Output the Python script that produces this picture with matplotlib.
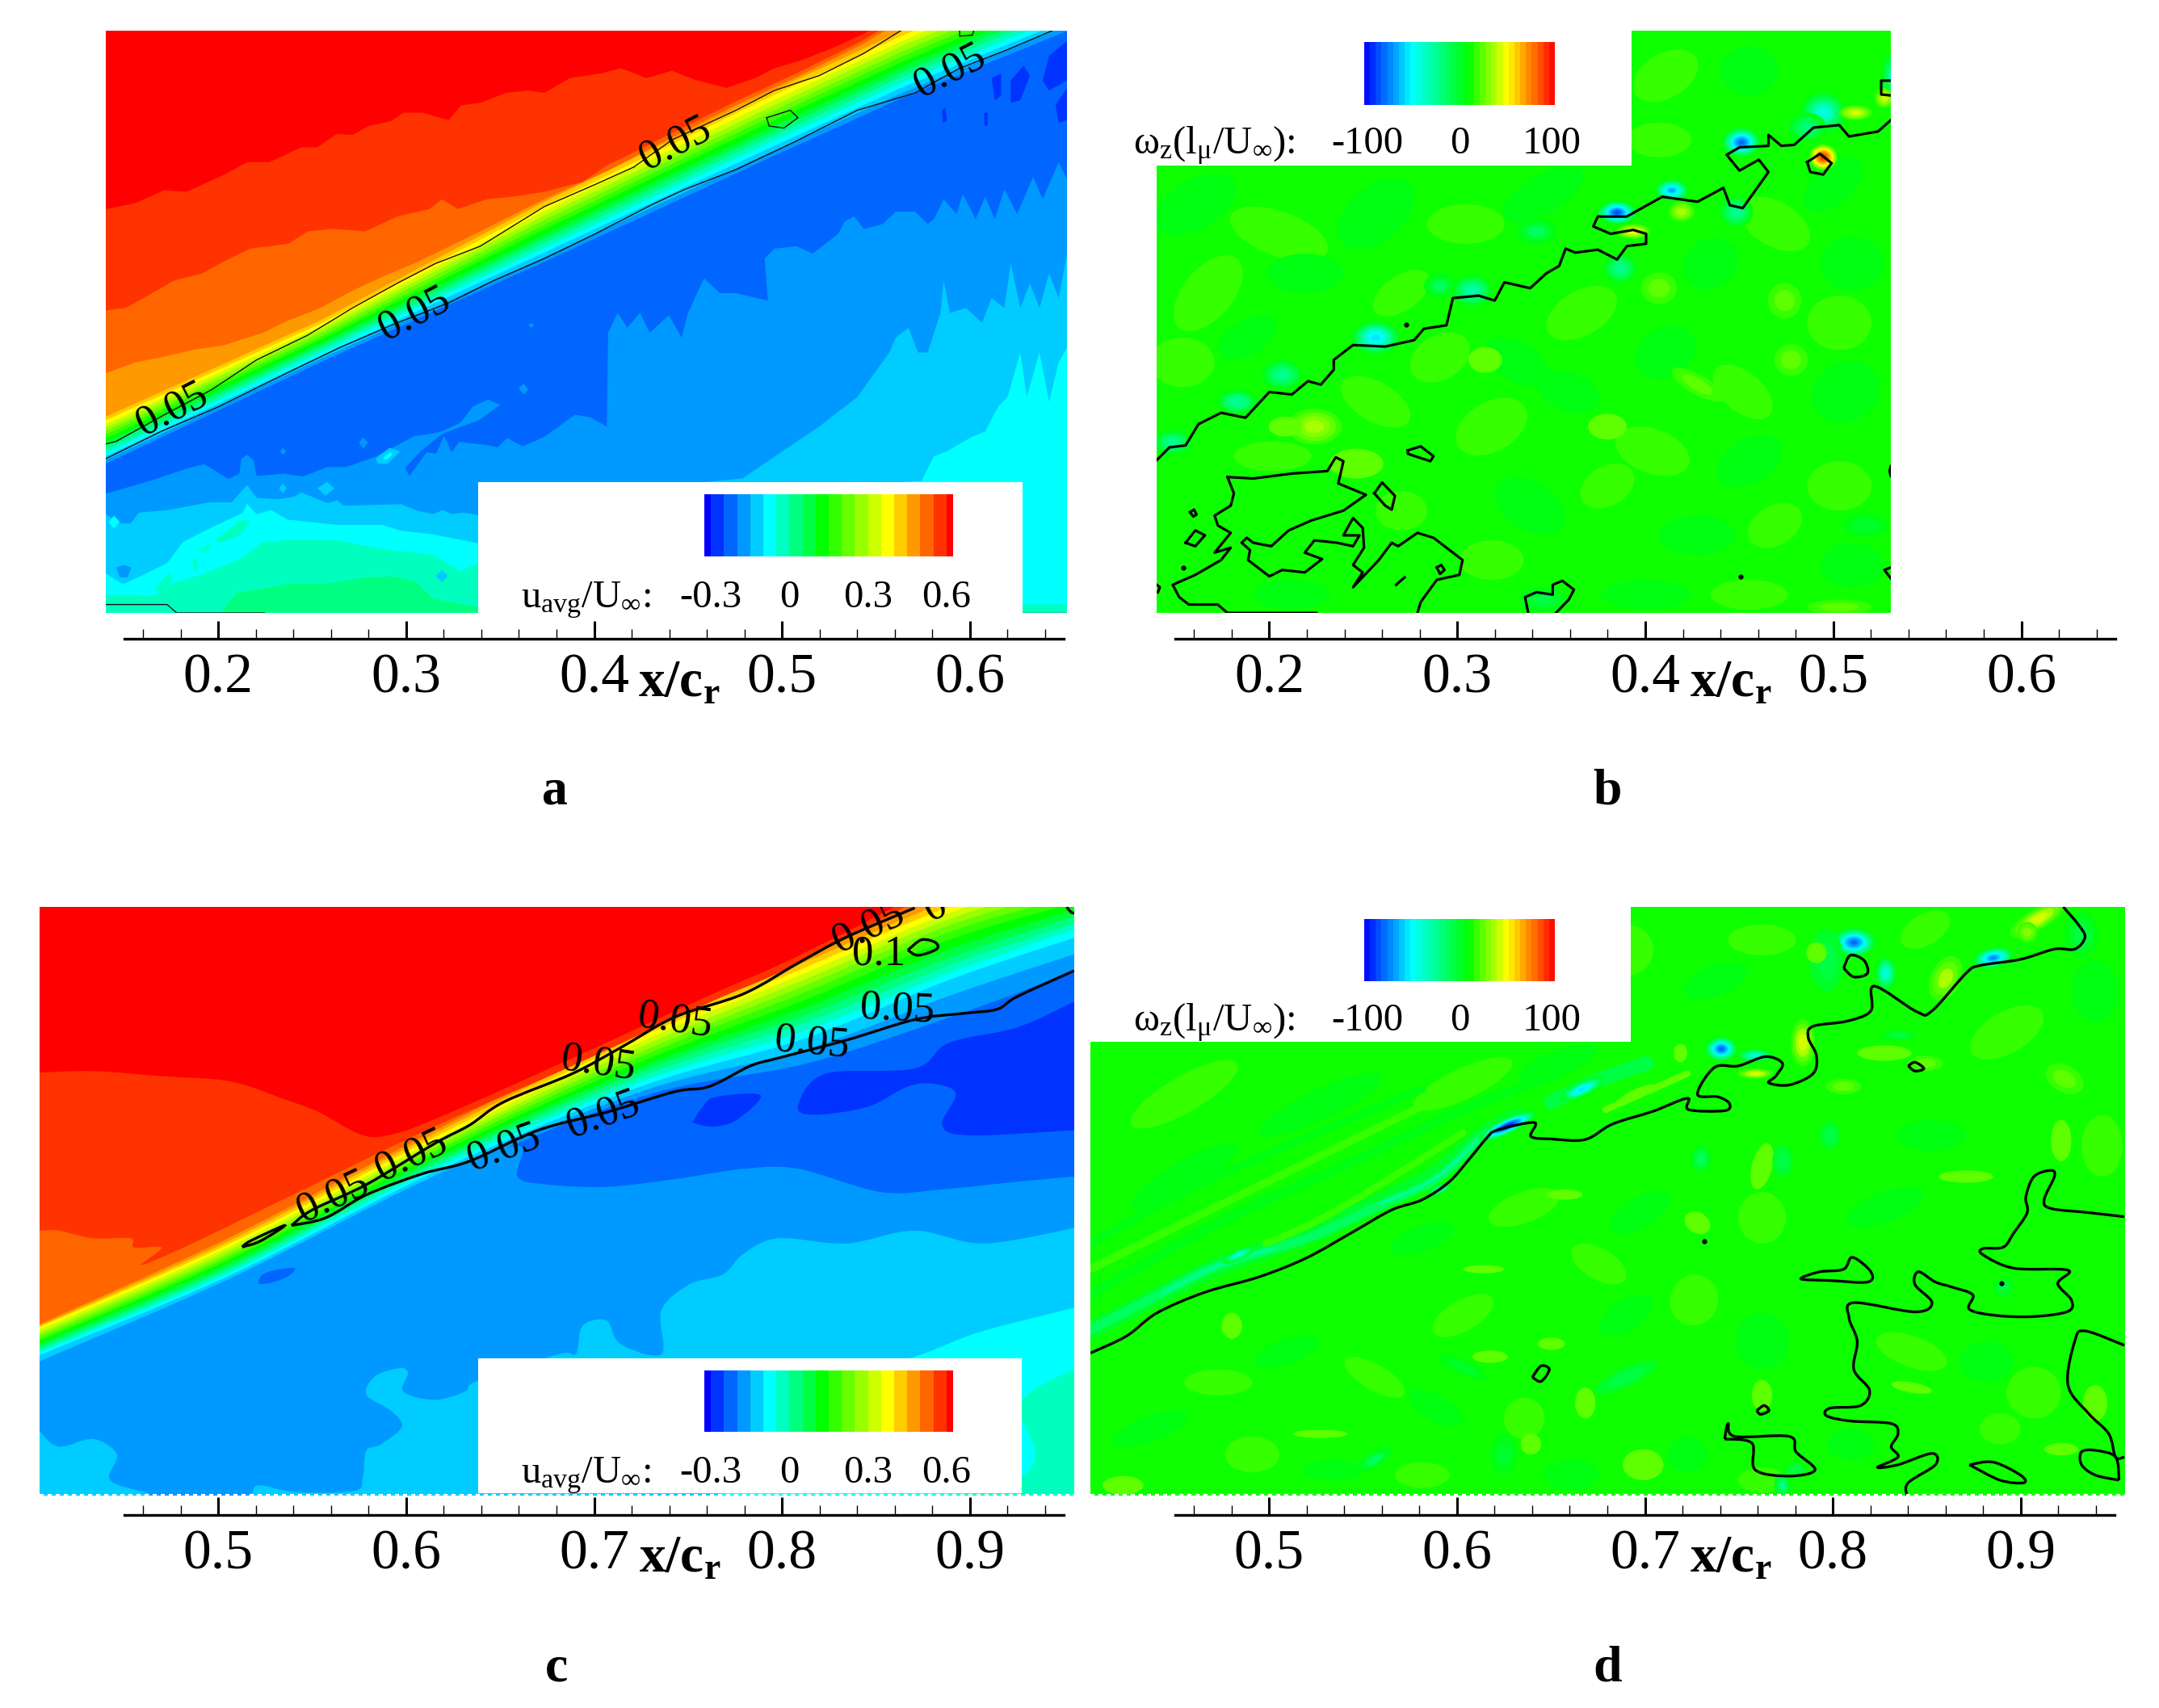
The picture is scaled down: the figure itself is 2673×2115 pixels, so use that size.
import numpy as np
import matplotlib
matplotlib.use('Agg')
import matplotlib.pyplot as plt
from matplotlib.colors import LinearSegmentedColormap, ListedColormap
from matplotlib.patches import Ellipse, PathPatch, Rectangle
from matplotlib.path import Path
from matplotlib.transforms import blended_transform_factory

plt.rcParams['font.family'] = ['Liberation Serif', 'DejaVu Sans']
plt.rcParams['mathtext.fontset'] = 'custom'
plt.rcParams['mathtext.rm'] = 'Liberation Serif'
plt.rcParams['mathtext.it'] = 'Liberation Serif:italic'
plt.rcParams['mathtext.bf'] = 'Liberation Serif:bold'

W, H = 2673, 2115

# band colours of the u_avg legend, low to high
U_BANDS = ['#0000ff', '#0033ff', '#0066ff', '#0099ff', '#00ccff', '#00ffff', '#00ffbf', '#00ff80', '#00ff40', '#00ff00',
           '#33ff00', '#66ff00', '#99ff00', '#ccff00', '#ffff00', '#ffcc00', '#ff9900', '#ff6600', '#ff3300', '#ff0000']
U_TICKS = [-0.3, 0, 0.3, 0.6]
W_TICKS = [-100, 0, 100]
XTICKS_TOP = [0.2, 0.3, 0.4, 0.5, 0.6]
XTICKS_BOTTOM = [0.5, 0.6, 0.7, 0.8, 0.9]

# All curves below are digitised in picture units (x along, y down) and get
# calibrated to x/c_r per panel further down.

# panel a, lower edge of each velocity band
A_BAND6 = [(14, 1207), (194, 1207), (218, 1167), (300, 1148), (358, 1148), (421, 1135), (460, 1133), (498, 1143), (526, 1178), (597, 1195), (700, 1207), (1518, 1207)]
A_BAND5 = [(14, 1170), (90, 1172), (119, 1146), (157, 1132), (221, 1100), (245, 1078), (259, 1063), (323, 1058), (380, 1061), (448, 1078), (526, 1089), (569, 1122), (597, 1107), (800, 1150), (1000, 1190), (1518, 1190)]
A_BAND4 = [(14, 1127), (41, 1149), (68, 1133), (110, 1106), (135, 1063), (184, 1031), (228, 1005), (235, 986), (250, 1007), (273, 999), (298, 1018), (376, 1029), (448, 1029), (474, 1040), (526, 1048), (597, 1066), (800, 1020), (1000, 960), (1290, 940), (1310, 890), (1330, 880), (1370, 850), (1390, 840), (1410, 790), (1425, 770), (1445, 680), (1455, 770), (1475, 680), (1490, 780), (1505, 700), (1518, 670)]
A_BAND3 = [(14, 1007), (34, 1026), (53, 1026), (66, 1004), (110, 999), (177, 983), (211, 983), (235, 948), (250, 974), (283, 977), (308, 972), (320, 963), (361, 985), (376, 979), (386, 990), (476, 987), (501, 1000), (526, 1007), (541, 999), (555, 1007), (574, 1004), (597, 1009),
           (800, 960), (1010, 935), (1050, 900), (1130, 830), (1190, 770), (1240, 680), (1250, 650), (1270, 630), (1285, 680), (1300, 680), (1320, 600), (1325, 535), (1335, 600), (1360, 590), (1385, 620), (1400, 570), (1420, 590), (1430, 500), (1445, 590), (1460, 540), (1475, 590), (1490, 520), (1505, 570), (1518, 480)]
A_BAND2 = [(14, 966), (85, 939), (143, 914), (168, 906), (206, 936), (223, 925), (226, 895), (235, 887), (245, 898), (250, 930), (293, 925), (322, 931), (361, 912), (390, 912), (436, 891), (497, 849), (526, 844), (543, 838), (569, 822), (589, 789), (612, 775), (631, 786), (598, 817), (570, 830), (540, 845),
           (506, 881), (482, 914), (489, 930), (516, 882), (531, 885), (543, 849), (555, 882), (567, 861), (608, 867), (627, 872), (642, 853), (666, 870), (700, 851), (748, 806), (772, 811), (798, 830), (800, 640), (815, 600), (830, 630), (850, 600), (865, 640), (895, 605), (915, 650), (925, 600), (950, 530), (975, 560), (1000, 560), (1050, 575), (1045, 490), (1060, 470), (1095, 465), (1120, 480), (1160, 440), (1170, 415), (1185, 405), (1200, 430), (1230, 420), (1250, 395), (1280, 395), (1300, 420), (1310, 410), (1325, 370), (1345, 400), (1355, 360), (1375, 410), (1390, 365), (1405, 410), (1420, 350), (1440, 400), (1465, 325), (1480, 370), (1505, 295), (1518, 330)]
A_BAND17 = [(14, 722), (60, 700), (100, 690), (150, 675), (200, 665), (260, 640), (300, 615), (350, 590), (400, 555), (450, 525), (500, 498), (600, 435), (700, 370), (800, 312), (900, 245), (1000, 180), (1100, 120), (1200, 55), (1245, 20)]
A_BAND18 = [(14, 595), (45, 590), (80, 565), (120, 535), (165, 520), (200, 495), (240, 470), (300, 460), (330, 435), (370, 430), (420, 435), (470, 405), (520, 390), (540, 370), (565, 390), (610, 370), (650, 365), (700, 355), (760, 335), (800, 300), (830, 282), (900, 236), (1000, 172), (1100, 112), (1200, 48), (1235, 20)]
A_BAND19 = [(14, 390), (60, 378), (105, 352), (140, 355), (200, 320), (235, 295), (270, 295), (320, 265), (345, 265), (375, 238), (400, 240), (425, 222), (460, 212), (480, 195), (510, 195), (550, 210), (570, 180), (600, 175), (640, 155), (675, 150), (700, 155), (740, 125), (790, 115), (820, 105), (860, 125), (900, 110), (935, 128), (985, 145), (1030, 125), (1060, 105), (1100, 90), (1150, 65), (1200, 35), (1222, 20)]

# panel a, shear layer: lower edge of bands 3..16 at a few stations along x
A_SHEAR_X = [14, 350, 700, 1050, 1260, 1518]
A_SHEAR = [[905, 898, 890, 883, 876, 868, 861, 854, 846, 839, 832, 825, 817, 810],
           [700, 693, 687, 680, 674, 667, 661, 654, 648, 641, 635, 628, 622, 615],
           [497, 488, 478, 469, 459, 450, 441, 431, 422, 412, 403, 394, 384, 375],
           [288, 278, 268, 257, 247, 237, 227, 216, 206, 196, 186, 175, 165, 155],
           [165, 155, 144, 134, 123, 113, 102, 92, 81, 71, 60, 50, 39, 29],
           [30, 19, 8, -3, -14, -25, -36, -47, -58, -69, -80, -91, -102, -113]]

# panel a, small closed patches: (band, outline)
A_ISLANDS = [(1, [(1480, 130), (1490, 80), (1518, 50), (1518, 130), (1490, 150)]),
             (1, [(1430, 130), (1450, 100), (1460, 120), (1445, 170), (1430, 175)]),
             (1, [(1400, 125), (1415, 115), (1415, 160), (1405, 170)]),
             (1, [(1500, 180), (1518, 145), (1518, 210), (1505, 215)]),
             (1, [(1322, 190), (1328, 185), (1330, 212), (1324, 215)]),
             (1, [(1388, 195), (1394, 195), (1394, 220), (1389, 222)]),
             (5, [(18, 1023), (27, 1010), (36, 1023), (27, 1036)]),
             (3, [(30, 1115), (42, 1110), (54, 1115), (48, 1135), (36, 1135)]),
             (6, [(90, 1160), (113, 1125), (118, 1140), (100, 1165)]),
             (6, [(150, 1100), (155, 1095), (158, 1115), (153, 1125)]),
             (6, [(185, 1060), (225, 1020), (240, 1020), (225, 1050), (190, 1065)]),
             (6, [(160, 1080), (175, 1068), (180, 1072), (165, 1085)]),
             (4, [(285, 955), (291, 945), (297, 955), (291, 965)]),
             (4, [(345, 955), (360, 942), (372, 955), (358, 970)]),
             (4, [(436, 895), (458, 873), (475, 880), (455, 905), (440, 905)]),
             (5, [(448, 893), (460, 880), (462, 888), (452, 898)]),
             (3, [(410, 862), (417, 852), (424, 862), (417, 875)]),
             (3, [(287, 880), (291, 873), (296, 880), (291, 887)]),
             (4, [(530, 1132), (540, 1120), (550, 1132), (540, 1145)]),
             (3, [(823, 740), (828, 725), (830, 755)]),
             (3, [(660, 752), (668, 743), (675, 755), (668, 765)]),
             (3, [(675, 625), (680, 620), (684, 625), (680, 630)])]

A_LINES = [[(14, 865), (30, 860), (100, 810), (180, 755), (250, 695), (330, 645), (400, 590), (470, 540), (530, 500), (600, 465), (700, 385), (780, 340), (840, 305), (900, 250), (1000, 190), (1060, 150), (1130, 120), (1200, 75), (1258, 29)],
           [(14, 895), (100, 840), (190, 790), (300, 720), (380, 670), (470, 620), (550, 580), (620, 535), (700, 490), (780, 440), (870, 380), (920, 350), (1000, 310), (1090, 255), (1190, 190), (1280, 155), (1350, 105), (1420, 70), (1495, 29)],
           [(1048, 205), (1085, 190), (1097, 205), (1075, 226), (1052, 222), (1048, 205)],
           [(1350, 29), (1350, 40), (1370, 38), (1372, 29)],
           [(14, 1190), (110, 1190), (125, 1207), (262, 1207)],
           [(1448, 1207), (1518, 1207)]]
A_LABELS = [(118, 795, 27, '0.05'), (497, 603, 27, '0.05'), (905, 258, 27, '0.05'), (1335, 110, 27, '0.05')]

# panel c
C_BAND5 = [(22, 1180), (1340, 1180), (1456, 995), (1533, 935)]
C_BAND4 = [(22, 1180), (1000, 1180), (1100, 1000), (1300, 910), (1340, 890), (1400, 860), (1533, 815)]
C_BAND3 = [(22, 1055), (50, 1085), (100, 1070), (135, 1100), (125, 1150), (180, 1175), (190, 1182), (318, 1182), (341, 1160), (395, 1173), (481, 1171), (494, 1145), (499, 1093), (521, 1080), (551, 1046), (535, 1015), (499, 984), (512, 948), (548, 932), (560, 942), (553, 978), (598, 994), (643, 978), (661, 957),
           (780, 905), (805, 905), (815, 850), (850, 840), (870, 885), (930, 905), (930, 820), (970, 770), (1020, 750), (1050, 710), (1100, 680), (1200, 690), (1300, 665), (1400, 690), (1533, 660)]
C_BAND2 = [(22, 905), (200, 800), (400, 675), (600, 560), (720, 500), (720, 560), (760, 575), (850, 580), (950, 565), (1050, 545), (1130, 545), (1250, 590), (1340, 585), (1450, 570), (1533, 560)]
C_BAND18 = [(22, 665), (50, 665), (100, 680), (155, 680), (160, 698), (200, 698), (170, 732), (219, 706), (300, 655), (400, 590), (600, 462), (800, 345), (1000, 222), (1100, 165), (1200, 95), (1280, 40), (1300, 20)]
C_BAND19 = [(22, 358), (100, 355), (200, 365), (300, 375), (380, 410), (430, 435), (490, 478), (530, 480), (600, 448), (800, 330), (1000, 208), (1100, 150), (1200, 85), (1270, 36), (1290, 20)]
C_SHEAR_X = [22, 300, 600, 900, 1143, 1350, 1533]
C_SHEAR = [[925, 919, 907, 901, 896, 890, 885, 879, 874, 868, 863, 857, 852, 850, 847],
           [765, 758, 752, 746, 740, 734, 727, 721, 715, 709, 702, 696, 690, 684, 678],
           [565, 558, 551, 544, 537, 531, 524, 517, 510, 503, 497, 490, 483, 476, 470],
           [405, 395, 385, 376, 366, 356, 347, 337, 327, 318, 308, 298, 289, 279, 270],
           [340, 312, 290, 275, 260, 245, 230, 215, 200, 187, 175, 163, 152, 141, 130],
           [251, 209, 178, 165, 150, 135, 118, 100, 85, 72, 60, 48, 36, 24, 12],
           [162, 128, 96, 80, 68, 55, 42, 28, 14, 0, -14, -28, -42, -56, -70]]
C_ISLANDS = [(1, [(1533, 220), (1450, 270), (1350, 300), (1300, 350), (1170, 360), (1130, 420), (1150, 440), (1230, 425), (1290, 385), (1330, 380), (1360, 400), (1340, 460), (1380, 480), (1533, 470)]),
             (1, [(975, 455), (990, 425), (1010, 405), (1075, 402), (1040, 450), (1005, 463), (975, 455)]),
             (2, [(341, 768), (346, 752), (365, 742), (395, 738), (382, 756), (355, 768), (341, 768)]),
             (4, [(1028, 900), (1040, 892), (1053, 900), (1040, 908), (1028, 900)])]
C_LINES = [[(318, 697), (330, 685), (380, 655), (345, 685), (318, 697)],
           [(390, 655), (420, 625), (500, 575), (600, 495), (650, 460), (700, 415), (800, 360), (870, 310), (950, 250), (1050, 205), (1130, 145), (1200, 95), (1300, 38)],
           [(390, 655), (440, 640), (500, 595), (580, 555), (650, 530), (750, 470), (850, 435), (950, 395), (1000, 385), (1060, 345), (1100, 330), (1200, 295), (1300, 255), (1370, 243), (1420, 235), (1450, 210), (1533, 160)],
           [(1290, 120), (1310, 100), (1330, 105), (1332, 118), (1305, 130), (1290, 120)],
           [(1522, 36), (1528, 46), (1533, 48)]]
C_LABELS = [(450, 600, 25, '0.05'), (565, 520, 25, '0.05'), (700, 505, 20, '0.05'), (845, 440, 20, '0.05'),
            (838, 340, -8, '0.05'), (950, 258, -8, '0.05'), (1150, 300, -5, '0.05'), (1275, 235, -3, '0.05'),
            (1232, 75, 25, '0.05'), (1248, 128, 0, '0.1'), (1330, 36, 25, '0')]

# panel b, vorticity zero line pieces
B_LINES = [[(40, 898), (60, 872), (85, 868), (105, 825), (140, 802), (178, 812), (215, 760), (250, 765), (275, 738), (295, 745), (315, 715), (315, 695), (345, 665), (395, 668), (440, 655), (455, 632), (490, 625), (500, 570), (540, 565), (565, 575), (580, 538), (620, 550), (645, 520), (665, 505), (675, 470), (690, 478), (725, 472), (755, 492), (770, 465), (800, 460), (800, 440), (780, 432), (745, 440), (718, 425), (725, 405), (770, 405), (825, 365), (880, 375), (920, 347), (930, 382), (950, 388), (990, 315), (975, 290), (945, 312), (925, 280), (945, 265), (990, 262), (990, 240), (1010, 262), (1030, 260), (1060, 225), (1100, 220), (1115, 243), (1160, 233), (1180, 210)],
           [(1180, 130), (1165, 130), (1165, 158), (1180, 160)],
           [(1050, 295), (1070, 278), (1088, 297), (1075, 320), (1055, 315), (1050, 295)],
           [(150, 932), (190, 935), (250, 925), (305, 920), (318, 892), (330, 900), (322, 945), (365, 968), (330, 1000), (280, 1020), (245, 1040), (218, 1072), (190, 1065), (180, 1055), (172, 1065), (185, 1080), (182, 1100), (215, 1133), (235, 1120), (270, 1125), (297, 1098), (270, 1085), (285, 1060), (320, 1065), (345, 1072), (355, 1050), (330, 1050), (345, 1015), (360, 1035), (362, 1075), (345, 1110), (360, 1125), (345, 1155), (385, 1100), (405, 1065), (415, 1072), (445, 1045), (470, 1055), (515, 1100), (510, 1130), (475, 1140), (450, 1185), (445, 1207)],
           [(150, 932), (160, 965), (155, 990), (130, 1010), (135, 1030), (155, 1045), (130, 1085), (155, 1075), (140, 1100), (100, 1130), (65, 1150), (75, 1175), (90, 1190), (135, 1190), (150, 1207), (288, 1207)],
           [(378, 965), (390, 943), (410, 970), (405, 998), (395, 990), (378, 965)],
           [(430, 878), (450, 870), (470, 890), (465, 900), (430, 885), (430, 878)],
           [(85, 1065), (100, 1040), (115, 1050), (100, 1072), (85, 1065)],
           [(92, 1003), (98, 998), (102, 1008), (97, 1012), (92, 1003)],
           [(475, 1115), (482, 1110), (487, 1120), (480, 1128), (475, 1115)],
           [(617, 1207), (612, 1175), (630, 1165), (655, 1170), (655, 1150), (670, 1142), (688, 1160), (680, 1180), (660, 1207)],
           [(1180, 910), (1178, 920), (1180, 930)],
           [(1180, 1115), (1170, 1120), (1180, 1137)],
           [(40, 1150), (45, 1155), (42, 1165)],
           [(412, 1150), (425, 1135)]]
B_DOTS = [(427, 623), (947, 1133), (82, 1115)]
# broad, weak mottling of the field: x, y, half width, half height, angle, value
B_MOTTLE = [(100, 380, 70, 50, 30, 6), (230, 440, 80, 45, -20, 18), (380, 400, 70, 55, 40, 6), (520, 420, 60, 40, 0, 18), (640, 360, 70, 40, 30, 6), (120, 560, 70, 50, 50, 18),
            (270, 520, 60, 40, 0, 6), (420, 560, 50, 35, 35, 18), (80, 700, 50, 50, 0, 18), (180, 650, 50, 35, 30, 6), (830, 120, 55, 45, 30, 18), (960, 110, 45, 50, 0, 6),
            (820, 250, 50, 35, 0, 18), (1090, 340, 55, 40, 40, 6), (1000, 420, 60, 45, -30, 18), (1120, 500, 50, 55, 0, 6), (900, 500, 45, 50, 30, 6), (700, 600, 60, 45, 30, 18),
            (600, 700, 55, 40, -30, 6), (480, 690, 50, 45, 30, 18), (380, 780, 60, 40, -30, 18), (220, 890, 60, 30, 0, 18), (560, 830, 60, 50, 30, 18), (680, 760, 50, 40, -20, 6),
            (830, 680, 50, 50, 30, 6), (950, 760, 55, 40, -40, 18), (1100, 620, 50, 55, 0, 18), (1110, 760, 55, 60, 30, 6), (810, 880, 60, 45, -20, 18), (960, 900, 55, 45, 30, 6),
            (1100, 950, 50, 50, 0, 18), (620, 990, 60, 50, -30, 6), (740, 950, 45, 40, 30, 18), (880, 1050, 60, 40, 0, 6), (1000, 1030, 45, 40, 30, 18), (560, 1100, 50, 40, 0, 18),
            (800, 1170, 70, 30, 0, 6), (960, 1170, 60, 30, 0, 18), (1120, 1110, 50, 45, 0, 6), (420, 1000, 40, 40, 0, 18), (250, 1170, 60, 30, 0, 6)]
# local extremes of vorticity
B_SPOTS = [(755, 397, 30, 24, 0, -90), (840, 352, 26, 22, 0, -70), (948, 255, 30, 30, 0, -80), (1075, 195, 36, 42, 0, -42),
           (380, 650, 38, 34, 0, -55), (235, 725, 32, 30, 0, -28), (165, 780, 32, 26, 0, -24), (65, 862, 30, 26, 0, -28),
           (530, 555, 32, 32, 0, -32), (480, 545, 25, 25, 0, -10), (630, 435, 32, 26, 0, -10), (940, 395, 26, 32, 0, -28),
           (760, 510, 26, 30, 0, -28), (1180, 120, 15, 45, 0, -22), (1050, 225, 30, 30, 0, -20),
           (1075, 285, 22, 26, 0, 95), (1125, 195, 26, 15, 0, 45), (1170, 165, 15, 20, 0, 45), (780, 435, 26, 15, 0, 50), (855, 395, 20, 20, 0, 38),
           (285, 830, 42, 36, 0, 38), (240, 830, 26, 20, 0, 24), (350, 905, 42, 30, 0, 24), (820, 550, 28, 32, 0, 28), (1015, 575, 26, 36, 0, 26),
           (880, 745, 46, 20, -30, 26), (1025, 695, 26, 32, 0, 28), (740, 830, 30, 26, 0, 24), (550, 695, 26, 26, 0, 24), (1100, 1195, 50, 15, 0, 26),
           (640, 1180, 40, 25, 0, -8), (1140, 1030, 36, 25, 0, -3)]

# panel d
D_LINES = [[(12, 903), (65, 870), (110, 825), (180, 785), (260, 755), (330, 718), (395, 670), (455, 625), (500, 605), (540, 570), (570, 525), (595, 485), (610, 470), (665, 455), (660, 482), (690, 487), (740, 488), (780, 458), (840, 433), (890, 408), (892, 430), (945, 432), (952, 418), (935, 405), (905, 400), (930, 348), (965, 345), (1005, 327), (1030, 340), (1020, 365), (1010, 378), (1040, 382), (1075, 360), (1080, 325), (1068, 290), (1075, 268), (1125, 258), (1160, 238), (1165, 190), (1228, 240), (1250, 238), (1300, 165), (1320, 150), (1380, 138), (1430, 118), (1460, 118), (1475, 95), (1465, 70), (1443, 36)],
           [(1120, 155), (1130, 130), (1150, 140), (1155, 165), (1135, 172), (1120, 155)],
           [(1215, 345), (1225, 338), (1238, 350), (1225, 355), (1215, 345)],
           [(662, 950), (675, 928), (687, 935), (675, 958), (662, 950)],
           [(992, 1015), (1003, 1005), (1010, 1015), (998, 1022), (992, 1015)],
           [(1533, 638), (1480, 630), (1425, 622), (1415, 605), (1430, 560), (1425, 548), (1400, 560), (1388, 600), (1390, 630), (1370, 670), (1355, 697), (1325, 700), (1325, 712), (1370, 738), (1450, 742), (1435, 768), (1455, 800), (1450, 822), (1400, 832), (1345, 830), (1305, 818), (1310, 790), (1280, 775), (1255, 765), (1230, 745), (1225, 770), (1250, 805), (1225, 823), (1135, 805), (1128, 835), (1140, 880), (1135, 935), (1158, 975), (1145, 1005), (1100, 1010), (1095, 1025), (1130, 1035), (1190, 1040), (1200, 1060), (1190, 1085), (1200, 1105), (1170, 1125), (1200, 1120), (1250, 1098), (1255, 1120), (1215, 1155), (1213, 1180)],
           [(1060, 755), (1085, 745), (1120, 740), (1133, 717), (1160, 745), (1155, 765), (1100, 762), (1060, 760), (1060, 755)],
           [(1533, 888), (1475, 860), (1460, 880), (1450, 965), (1480, 1020), (1510, 1060), (1520, 1105), (1533, 1105)],
           [(1525, 1150), (1490, 1140), (1470, 1120), (1470, 1095), (1490, 1092), (1520, 1105), (1525, 1150)],
           [(945, 1070), (950, 1040), (960, 1065), (1040, 1065), (1050, 1095), (1078, 1130), (1040, 1142), (990, 1130), (985, 1078), (945, 1070)],
           [(1305, 1120), (1340, 1115), (1380, 1140), (1385, 1155), (1350, 1150), (1305, 1120)]]
D_DOTS = [(1352, 768), (915, 685)]
# streaks along the shear layer: value, outline, width
D_STREAKS = [(5, [(12, 790), (200, 650), (400, 530), (560, 430), (700, 360)], 9),
             (5, [(12, 690), (150, 590), (300, 500), (500, 390)], 7),
             (18, [(12, 740), (180, 630), (350, 520), (520, 410)], 7),
             (2, [(12, 860), (100, 800), (200, 735), (330, 675), (430, 615), (520, 555), (590, 480), (640, 445)], 16),
             (-12, [(12, 858), (100, 798), (200, 733), (330, 680), (430, 620), (520, 565), (590, 480), (640, 450)], 8),
             (-28, [(120, 785), (200, 733), (280, 700)], 3),
             (-28, [(440, 612), (520, 562), (590, 478)], 3),
             (20, [(270, 690), (340, 650), (420, 590), (500, 525), (560, 475)], 6),
             (-8, [(690, 415), (760, 372), (830, 340)], 13),
             (24, [(770, 430), (830, 395), (890, 360)], 6)]
D_MOTTLE = [(150, 400, 90, 35, 30, 18), (350, 420, 100, 30, 25, 6), (560, 380, 80, 30, 25, 18), (700, 340, 60, 25, 20, 6), (150, 560, 90, 30, 30, 6),
            (800, 120, 40, 50, 0, 18), (930, 180, 50, 30, 20, 6), (1000, 100, 50, 30, 0, 18), (1240, 80, 40, 30, 30, 18), (1490, 200, 35, 60, 0, 6),
            (1360, 280, 60, 40, 30, 18), (1500, 500, 30, 60, 0, 18), (1250, 480, 50, 30, 0, 6), (1180, 620, 60, 30, 20, 6), (1000, 640, 35, 50, 0, 18),
            (820, 630, 50, 30, 30, 6), (650, 620, 55, 30, 20, 18), (500, 680, 50, 25, 20, 6), (560, 830, 50, 30, 30, 18), (760, 730, 45, 30, -30, 18),
            (900, 800, 35, 50, -20, 18), (1000, 880, 40, 55, 0, 6), (1220, 900, 55, 30, -20, 18), (1330, 920, 40, 40, 0, 6), (1400, 980, 40, 50, 0, 18),
            (800, 830, 45, 30, 30, 6), (650, 1030, 30, 40, 0, 18), (520, 1010, 45, 25, -30, 6), (430, 950, 50, 25, -30, 18), (300, 900, 50, 25, 20, 6),
            (200, 960, 50, 25, 0, 18), (100, 1050, 60, 25, 20, 6), (250, 1100, 40, 35, 0, 18), (370, 1130, 45, 20, 0, 6), (500, 1140, 40, 25, 0, 18),
            (720, 1140, 40, 30, 0, 6), (890, 1100, 30, 35, 0, 6), (1000, 1150, 35, 25, 0, 18), (1130, 1080, 35, 30, 0, 6), (1350, 1050, 30, 30, 0, 18)]
D_SPOTS = [(1135, 105, 32, 28, 0, -80), (1182, 165, 16, 32, 0, -45), (1340, 135, 30, 20, 10, -75), (940, 312, 24, 24, 0, -80), (990, 325, 26, 13, 0, -45),
           (735, 390, 36, 15, 25, -55), (625, 462, 46, 15, 25, -100), (230, 712, 26, 10, 25, -45), (525, 585, 20, 10, 25, -30),
           (1100, 480, 15, 26, 0, -6), (910, 525, 15, 26, 0, -14), (1095, 140, 25, 60, 0, -6), (1470, 90, 25, 45, 0, -8),
           (1060, 300, 18, 46, 0, 42), (1270, 175, 22, 46, -25, 36), (1405, 60, 46, 20, 30, 42), (1390, 85, 15, 20, 0, 32), (990, 360, 26, 10, 0, 42),
           (1240, 340, 26, 15, 0, 26), (1120, 385, 26, 15, 0, 28), (1180, 320, 40, 15, 0, 24), (1445, 370, 30, 26, -30, 26), (815, 400, 30, 10, 25, 24),
           (880, 320, 10, 18, 0, 24), (1080, 125, 15, 20, 0, 24), (1200, 285, 26, 10, 0, -8), (1000, 540, 15, 46, -15, 22), (1030, 530, 15, 30, 0, -6),
           (1300, 560, 40, 12, 0, 22), (1440, 490, 15, 40, 0, 22), (905, 650, 20, 20, -30, 22), (710, 595, 26, 10, 0, 22), (600, 910, 26, 12, 0, 24),
           (690, 885, 20, 12, 0, 22), (560, 930, 40, 15, -25, -3), (800, 950, 50, 18, 25, -6), (740, 1000, 15, 30, 0, 24), (1000, 985, 15, 30, 0, 24),
           (1220, 970, 30, 10, -10, 22), (620, 1100, 20, 40, 0, -3), (825, 1120, 30, 30, 0, 24), (430, 1110, 30, 15, 30, -10), (660, 1080, 15, 20, 0, 22),
           (1030, 1160, 12, 25, 0, -22), (1050, 1130, 15, 15, 0, -6), (590, 740, 30, 8, 0, 22), (220, 850, 15, 25, 0, 22),
           (350, 1060, 40, 8, 0, 22), (60, 1160, 30, 18, 0, 24), (1490, 1000, 18, 35, 0, 22), (1440, 1090, 25, 12, 0, 24), (1355, 775, 15, 20, 0, -8)]

WARP = LinearSegmentedColormap.from_list('tec', [(0, '#0000ff'), (0.25, '#00ffff'), (0.55, '#00ff00'), (0.75, '#ffff00'), (1, '#ff0000')])
W_EDGES = np.linspace(-103, 103, 34)
W_BASE = 12


def w_colour(v):
    # band colour of a vorticity value
    k = np.clip(np.searchsorted(W_EDGES, v) - 1, 0, 32)
    return WARP((k + 0.5) / 33)


def field_axes(box, ref, x_ref, x_unit, y_bottom, y_unit, extent):
    l, r, t, b = box
    ax = fig.add_axes([l / W, 1 - b / H, (r - l) / W, (b - t) / H])
    cal = lambda pts: np.column_stack([x_ref + (np.asarray(pts, float)[:, 0] - ref) / x_unit,
                                       (y_bottom - np.asarray(pts, float)[:, 1]) / y_unit])
    ax.set_xlim(x_ref + (extent[0] - ref) / x_unit, x_ref + (extent[1] - ref) / x_unit)
    ax.set_ylim(0, (y_bottom - extent[2]) / y_unit)
    ax.axis('off')
    return ax, cal


def curve_path(p, closing=None):
    verts, codes = [p[0]], [Path.MOVETO]
    for i in range(len(p) - 1):
        before = p[max(i - 1, 0)]
        after = p[min(i + 2, len(p) - 1)]
        verts += [p[i] + (p[i + 1] - before) / 6, p[i + 1] - (after - p[i]) / 6, p[i + 1]]
        codes += [Path.CURVE4] * 3
    if closing is not None:
        for q in closing:
            verts.append(q)
            codes.append(Path.LINETO)
    return Path(np.array(verts), codes)


def paint(ax, cal, curve, colour, smooth=False, z=1):
    # fill everything above a digitised band edge; later bands cover earlier ones
    p = cal(curve)
    closing = [[p[-1, 0], 2.0], [p[0, 0], 2.0], p[0]]
    if smooth:
        ax.add_patch(PathPatch(curve_path(p, closing), fc=colour, lw=0, zorder=z))
    else:
        q = np.vstack([p, closing])
        ax.fill(q[:, 0], q[:, 1], color=colour, lw=0, zorder=z)


def draw_u_field(ax, cal, back, edges, shear_x, shear, shear_first, upper, islands, smooth=False):
    ax.fill_between(ax.get_xlim(), 0, 2, color=U_BANDS[back], lw=0, zorder=0)
    for k, curve in edges:
        paint(ax, cal, curve, U_BANDS[k], smooth)
    table = np.array(shear)
    for j in range(table.shape[1]):
        paint(ax, cal, list(zip(shear_x, table[:, j])), U_BANDS[shear_first + j], smooth)
    for k, curve in upper:
        paint(ax, cal, curve, U_BANDS[k], smooth)
    for k, outline in islands:
        p = cal(outline)
        if smooth:
            ax.add_patch(PathPatch(curve_path(p, [p[0]]), fc=U_BANDS[k], lw=0, zorder=2))
        else:
            ax.fill(p[:, 0], p[:, 1], color=U_BANDS[k], lw=0, zorder=2)


def draw_spots(ax, cal, x_unit, y_unit, spots, z):
    for cx, cy, rx, ry, ang, peak in spots:
        n = max(1, int(abs(peak - W_BASE) / 6.2))
        c = cal([(cx, cy)])[0]
        for i in range(1, n + 1):
            s = (1 - (i - 1) / n) ** 0.75
            ax.add_patch(Ellipse(c, 2 * rx * s / x_unit, 2 * ry * s / y_unit, angle=ang,
                                 color=w_colour(W_BASE + (peak - W_BASE) * i / n), lw=0, zorder=z))


def draw_lines(ax, cal, lines, lw, colour='k', smooth=False):
    for line in lines:
        p = cal(line)
        if smooth:
            ax.add_patch(PathPatch(curve_path(p), fc='none', ec=colour, lw=lw, zorder=5))
        else:
            ax.plot(p[:, 0], p[:, 1], color=colour, lw=lw, zorder=5, solid_joinstyle='round')


def draw_dots(ax, cal, dots):
    for d in dots:
        p = cal([d])
        ax.plot(p[:, 0], p[:, 1], 'o', color='k', ms=3.5, zorder=5)


def labels(ax, cal, items):
    for zx, zy, rot, s in items:
        p = cal([(zx, zy)])[0]
        ax.text(p[0], p[1], s, rotation=rot, rotation_mode='anchor', fontsize=38, ha='center', va='center', zorder=6, clip_on=True)


def blank(ax, cal, corner_a, corner_b):
    p0, p1 = cal([corner_a, corner_b])
    ax.add_patch(Rectangle((p0[0], p1[1]), p1[0] - p0[0], p0[1] - p1[1], color='white', lw=0, zorder=7))


def xaxis(px_left, px_right, y_px, lim, ticks):
    ax = fig.add_axes([px_left / W, 1 - y_px / H, (px_right - px_left) / W, 0.0005])
    ax.set_xlim(*lim)
    ax.set_ylim(0, 1)
    ax.patch.set_alpha(0)
    for s in ['top', 'left', 'right']:
        ax.spines[s].set_visible(False)
    ax.spines['bottom'].set_linewidth(2.4)
    ax.set_yticks([])
    ax.set_xticks(ticks)
    ax.set_xticklabels([f'{t:.1f}' for t in ticks], fontsize=50)
    ax.set_xticks(np.arange(lim[0] + 0.01, lim[1], 0.02), minor=True)
    ax.tick_params(axis='x', which='major', direction='in', length=16, width=2.2, pad=13)
    ax.tick_params(axis='x', which='minor', direction='in', length=9, width=1.0)
    return ax


def xlabel(x_px, y_px):
    fig.text(x_px / W, 1 - y_px / H, r'$\mathbf{x/c_r}$', fontsize=47, ha='center', va='baseline', zorder=20)


def bar_u(px):
    l, r, t, b = px
    ax = fig.add_axes([l / W, 1 - b / H, (r - l) / W, (b - t) / H], zorder=10)
    edges = np.r_[-0.325, np.arange(-0.3, 0.601, 0.05), 0.625]
    ax.pcolormesh(edges, [0, 1], np.arange(20).reshape(1, -1), cmap=ListedColormap(U_BANDS), vmin=-0.5, vmax=19.5)
    ax.axis('off')
    return ax


def bar_w(px):
    l, r, t, b = px
    ax = fig.add_axes([l / W, 1 - b / H, (r - l) / W, (b - t) / H], zorder=10)
    ax.pcolormesh(W_EDGES, [0, 1], ((W_EDGES[:-1] + W_EDGES[1:]) / 2).reshape(1, -1), cmap=ListedColormap([WARP((k + 0.5) / 33) for k in range(33)]), vmin=-103, vmax=103)
    ax.axis('off')
    return ax


def bar_labels(ax, ticks, base_px, fmt):
    tr = blended_transform_factory(ax.transData, fig.transFigure)
    for t in ticks:
        fig.text(t, 1 - base_px / H, fmt(t), transform=tr, fontsize=35, ha='center', va='baseline', zorder=20)


def legend_u(bar_box, base_px):
    bar = bar_u(bar_box)
    bar_labels(bar, U_TICKS, base_px, lambda t: '0' if t == 0 else f'{t:.1f}')
    fig.text(645 / W, 1 - base_px / H, r'$\mathrm{u_{avg}/U_{\infty}}$:', fontsize=35, ha='left', va='baseline', zorder=20)


def legend_w(bar_box, base_px):
    bar = bar_w(bar_box)
    bar_labels(bar, W_TICKS, base_px, lambda t: str(t))
    fig.text(1403 / W, 1 - base_px / H, r'$\mathrm{\omega_z(l_\mu/U_{\infty})}$:', fontsize=35, ha='left', va='baseline', zorder=20)


def letter(x_px, y_px, s):
    fig.text(x_px / W, 1 - y_px / H, s, fontsize=46, fontweight='bold', ha='center', va='baseline')


fig = plt.figure(figsize=(W / 100, H / 100), dpi=100, facecolor='white')

# ---- panel a
ax, cal = field_axes((131, 1321, 38, 759), 190, 0.2, 2943, 1207, 3798, (14, 1518, 29))
draw_u_field(ax, cal, 7,
             [(6, A_BAND6), (5, A_BAND5), (4, A_BAND4), (3, A_BAND3), (2, A_BAND2)],
             A_SHEAR_X, A_SHEAR, 3,
             [(17, A_BAND17), (18, A_BAND18), (19, A_BAND19)], A_ISLANDS)
draw_lines(ax, cal, A_LINES, 1.0, '#111111')
labels(ax, cal, A_LABELS)
blank(ax, cal, (597, 942), (1448, 1207))
legend_u((872, 1180, 612, 689), 752)
xaxis(154, 1317, 791, (0.15, 0.65), XTICKS_TOP)
xlabel(841, 862)
letter(687, 995, 'a')

# ---- panel b
ax, cal = field_axes((1432, 2341, 38, 759), 215, 0.2, 2920, 1207, 3798, (40, 1180, 29))
ax.fill_between(ax.get_xlim(), 0, 2, color=w_colour(W_BASE), lw=0, zorder=0)
draw_spots(ax, cal, 2920, 3798, B_MOTTLE, 1)
draw_spots(ax, cal, 2920, 3798, B_SPOTS, 2)
draw_lines(ax, cal, B_LINES, 2.3)
draw_dots(ax, cal, B_DOTS)
blank(ax, cal, (40, 29), (777, 302))
legend_w((1689, 1925, 52, 130), 190)
xaxis(1455, 2619, 791, (0.15, 0.65), XTICKS_TOP)
xlabel(2143, 862)
letter(1990, 995, 'b')

# ---- panel c
ax, cal = field_axes((49, 1330, 1123, 1852), 284, 0.5, 2740, 1180, 3647, (22, 1533, 36))
draw_u_field(ax, cal, 6,
             [(5, C_BAND5), (4, C_BAND4), (3, C_BAND3), (2, C_BAND2)],
             C_SHEAR_X, C_SHEAR, 3,
             [(18, C_BAND18), (19, C_BAND19)], C_ISLANDS, smooth=True)
draw_lines(ax, cal, C_LINES, 2.4, smooth=True)
labels(ax, cal, C_LABELS)
blank(ax, cal, (663, 913), (1456, 1175))
ax.axhline(0, color='white', lw=3, ls=(0, (1.2, 1.2)), zorder=8)
legend_u((872, 1180, 1697, 1773), 1836)
xaxis(154, 1317, 1876, (0.45, 0.95), XTICKS_BOTTOM)
xlabel(842, 1946)
letter(689, 2081, 'c')

# ---- panel d
ax, cal = field_axes((1350, 2631, 1123, 1852), 275, 0.5, 2762, 1180, 3647, (12, 1534, 36))
ax.fill_between(ax.get_xlim(), 0, 2, color=w_colour(W_BASE), lw=0, zorder=0)
draw_spots(ax, cal, 2762, 3647, D_MOTTLE, 1)
for v, outline, width in D_STREAKS:
    p = cal(outline)
    ax.add_patch(PathPatch(curve_path(p), fc='none', ec=w_colour(v), lw=width, capstyle='round', zorder=1.5))
draw_spots(ax, cal, 2762, 3647, D_SPOTS, 2)
draw_lines(ax, cal, D_LINES, 2.4, smooth=True)
draw_dots(ax, cal, D_DOTS)
blank(ax, cal, (12, 36), (807, 298))
ax.axhline(0, color='white', lw=3, ls=(0, (1.2, 1.2)), zorder=8)
legend_w((1689, 1925, 1138, 1215), 1276)
xaxis(1455, 2618, 1876, (0.45, 0.95), XTICKS_BOTTOM)
xlabel(2143, 1946)
letter(1990, 2081, 'd')

fig.savefig('out.png', dpi=100)
